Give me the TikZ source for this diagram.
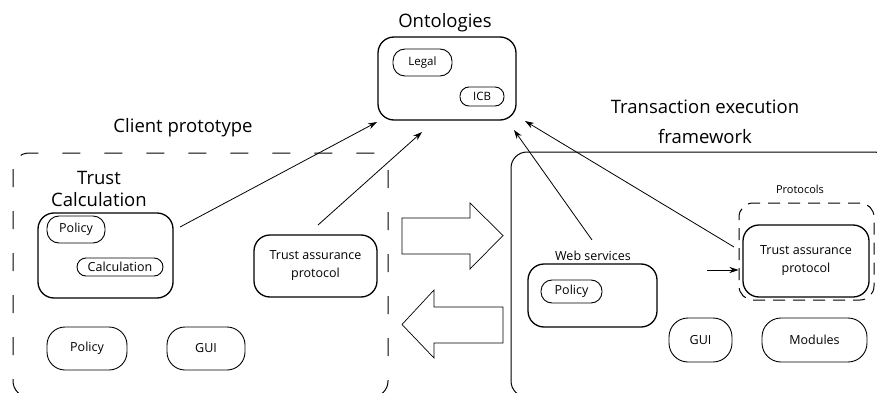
\documentclass[tikz,border=0pt]{standalone}
\usepackage{fontspec}
\setmainfont{Open Sans}
\usetikzlibrary{arrows.meta}
\begin{document}
\begin{tikzpicture}[x=1pt,y=-1pt,
  title/.style={font=\fontsize{18.5}{30}\selectfont, align=center, inner sep=0pt},
  label/.style={font=\fontsize{12.5}{16}\selectfont, align=center, inner sep=0pt},
  pill/.style={draw, line width=0.9pt, rounded corners=#1, inner sep=0pt,
    font=\fontsize{12.5}{14}\selectfont, align=center},
  group/.style={draw, line width=1.3pt, rounded corners=16pt, inner sep=0pt},
  frame/.style={line width=1pt, rounded corners=16pt},
  conn/.style={line width=0.8pt, -{Stealth[length=9pt,width=6pt]}},
  block/.style={draw, line width=0.7pt, fill=white}]
\useasboundingbox (0,0) rectangle (877,393);
\clip (0,0) rectangle (877,393);

% ontologies
\node[title] (ontot) at (445,23) {Ontologies};
\node[group, minimum width=138pt, minimum height=83pt] (onto) at (447,78.5) {};
\node[pill=12pt, minimum width=59pt, minimum height=27pt, font=\fontsize{11.5}{14}\selectfont] (legal) at (422.5,62.5) {Legal};
\node[pill=9pt, minimum width=44pt, minimum height=19pt, font=\fontsize{11.5}{14}\selectfont] (icb) at (482,96.5) {ICB};

% client prototype
\node[title] (clientt) at (183,128) {Client prototype};
\draw[frame, dashed, dash pattern=on 18pt off 24pt] (13,153) rectangle (388,397);
\node[title, font=\fontsize{18.5}{22}\selectfont] (tct) at (99,189) {Trust\\Calculation};
\node[group, minimum width=135pt, minimum height=85pt] (tc) at (105.5,255.5) {};
\node[pill=12pt, minimum width=58pt, minimum height=27pt] (tcpol) at (76,229.5) {Policy};
\node[pill=9pt, minimum width=86pt, minimum height=18pt] (tccalc) at (120,267) {Calculation};
\node[group, minimum width=123pt, minimum height=62pt,
  font=\fontsize{12.5}{18}\selectfont, align=center] (tapl) at (315.5,266) {Trust assurance\\protocol};
\node[pill=18pt, minimum width=80pt, minimum height=43pt] (cpol) at (87,348.5) {Policy};
\node[pill=18pt, minimum width=78pt, minimum height=43pt] (cgui) at (206,348.5) {GUI};

% exchange arrows
\draw[block] (402,218) -- (470,218) -- (470,203) -- (503,235.5) -- (470,269)
  -- (470,254) -- (402,254) -- cycle;
\draw[block] (402,324.5) -- (434,290) -- (434,307) -- (503,307) -- (503,343)
  -- (434,343) -- (434,358) -- cycle;

% transaction execution framework
\node[title] (tefr) at (705,122) {Transaction execution\\framework};
\draw[frame] (511,152) rectangle (890,397);
\node[label, font=\fontsize{11}{12}\selectfont] (protot) at (800,189) {Protocols};
\node[draw, line width=1pt, dashed, dash pattern=on 12pt off 8pt, rounded corners=14pt,
  minimum width=135pt, minimum height=97pt, inner sep=0pt] (proto) at (806.5,251.5) {};
\node[group, minimum width=126pt, minimum height=72pt,
  font=\fontsize{12.5}{18}\selectfont, align=center] (tapr) at (806,261) {Trust assurance\\protocol};
\node[label] (wst) at (593,256) {Web services};
\node[group, minimum width=129pt, minimum height=63pt] (ws) at (592.5,295.5) {};
\node[pill=11pt, minimum width=61pt, minimum height=23pt] (wspol) at (571.5,291.5) {Policy};
\node[pill=19pt, minimum width=63pt, minimum height=44pt] (rgui) at (700.5,340) {GUI};
\node[pill=19pt, minimum width=105pt, minimum height=44pt] (mods) at (814.5,340) {Modules};

% connectors
\coordinate (tcout) at (180,227);
\coordinate (taplout) at (318,225);
\coordinate (wsout) at (592,240);
\coordinate (protoout) at (734,247);
\coordinate (ontoa) at (377,122);
\coordinate (ontob) at (422,132);
\coordinate (ontoc) at (514,130);
\coordinate (ontod) at (525,121);
\coordinate (protoin) at (707,270);
\draw[conn] (tcout) -- (ontoa);
\draw[conn] (taplout) -- (ontob);
\draw[conn] (wsout) -- (ontoc);
\draw[conn] (protoout) -- (ontod);
\draw[conn] (protoin) -- (proto.west |- protoin);
\end{tikzpicture}
\end{document}
